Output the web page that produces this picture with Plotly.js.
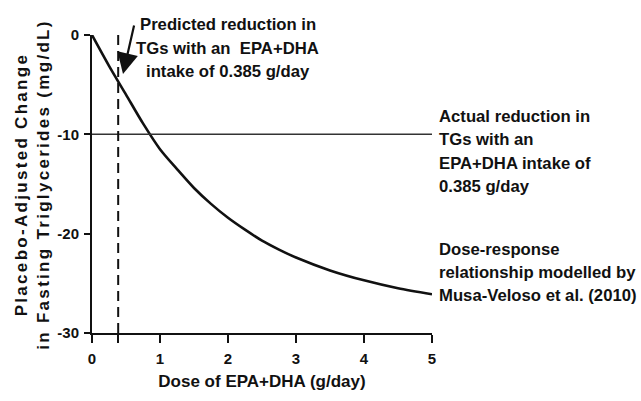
<!DOCTYPE html>
<html>
<head>
<meta charset="utf-8">
<script src="https://cdn.plot.ly/plotly-3.0.1.min.js"></script>
<style>
  html, body { margin: 0; padding: 0; background: #fff; }
  #chart { width: 641px; height: 401px; }
  g.annotation[data-index="0"] text { letter-spacing: 2.3px; }
</style>
</head>
<body>
<div id="chart"></div>
<script>
// ---- data ----
const dose = [0, 0.25, 0.5, 0.75, 1, 1.25, 1.5, 1.75, 2, 2.25, 2.5, 2.75, 3, 3.5, 4, 4.5, 5];
const tgChange = [0, -3.1, -6.0, -8.9, -11.5, -13.5, -15.4, -17.0, -18.4, -19.6, -20.7, -21.6, -22.4, -23.7, -24.7, -25.5, -26.1];
const intakeDose = 0.385;
const actualChange = -10;
const doseRange = [0, 5];
const changeRange = [-30, 0];
const doseTicks = [0, 1, 2, 3, 4, 5];
const changeTicks = [0, -10, -20, -30];
const xTitle = 'Dose of EPA+DHA (g/day)';
const yTitleLines = ['Placebo-Adjusted Change', 'in Fasting Triglycerides (mg/dL)'];
const predictedLines = ['Predicted reduction in', 'TGs with an \u00a0EPA+DHA', 'intake of 0.385 g/day'];
const actualLines = ['Actual reduction in', 'TGs with an', 'EPA+DHA intake of', '0.385 g/day'];
const modelLines = ['Dose-response', 'relationship modelled by', 'Musa-Veloso et al. (2010)'];

// ---- layout helpers ----
const W = 641, H = 401;
const M = { l: 92, r: 209, t: 35, b: 68 };
const PW = W - M.l - M.r, PH = H - M.t - M.b;
const px2x = p => (p - M.l) / PW;
const px2y = p => (H - M.b - p) / PH;
const FONT = 'Liberation Sans, Arial, Helvetica, sans-serif';
const INK = '#111111';
const labelFont = { family: FONT, size: 16.7, color: INK, weight: 700 };

function lineBlock(lines, xPx, yTopPx, step, xanchor) {
  return lines.map((t, i) => ({
    text: t, xref: 'paper', yref: 'paper',
    x: px2x(xPx), y: px2y(yTopPx + i * step),
    xanchor: xanchor, yanchor: 'middle', align: xanchor === 'center' ? 'center' : 'left',
    showarrow: false, borderpad: 0, borderwidth: 0, font: labelFont
  }));
}

const traces = [
  { x: dose, y: tgChange, type: 'scatter', mode: 'lines', cliponaxis: false,
    line: { color: INK, width: 2.6, shape: 'spline', smoothing: 0.8 }, hoverinfo: 'skip' },
  { x: doseRange, y: [actualChange, actualChange], type: 'scatter', mode: 'lines', cliponaxis: false,
    line: { color: '#333333', width: 1.5 }, hoverinfo: 'skip' },
  { x: [intakeDose, intakeDose], y: changeRange, type: 'scatter', mode: 'lines', cliponaxis: false,
    line: { color: INK, width: 2, dash: '10px,6px' }, hoverinfo: 'skip' }
];

const annotations = [
  { text: yTitleLines.join('<br>'), xref: 'paper', yref: 'paper',
    x: px2x(32), y: px2y(185), xanchor: 'center', yanchor: 'middle', textangle: -90,
    showarrow: false, borderpad: 0, borderwidth: 0,
    font: { family: FONT, size: 17, color: INK, weight: 700 } },
  { text: ' ', xref: 'paper', yref: 'paper', x: px2x(123), y: px2y(74),
    showarrow: true, arrowhead: 2, arrowsize: 1.9, arrowwidth: 2.2, arrowcolor: INK,
    ax: 13, ay: -57, standoff: 0, startstandoff: 0 }
].concat(
  lineBlock(predictedLines, 227.5, 25, 23.3, 'center'),
  lineBlock(actualLines, 439, 116.5, 23.4, 'left'),
  lineBlock(modelLines, 439, 249, 23, 'left')
);

const axisCommon = {
  showline: true, linewidth: 2, linecolor: INK, mirror: false,
  ticks: 'outside', tickwidth: 2, tickcolor: INK,
  showgrid: false, zeroline: false, fixedrange: true,
  tickfont: { family: FONT, size: 15, color: INK, weight: 700 }
};

const layout = {
  width: W, height: H, autosize: false,
  margin: M, showlegend: false,
  paper_bgcolor: '#ffffff', plot_bgcolor: '#ffffff',
  font: { family: FONT, color: INK },
  xaxis: Object.assign({}, axisCommon, {
    range: doseRange, tickmode: 'array',
    tickvals: doseTicks.concat([intakeDose]),
    ticktext: doseTicks.map(String).concat(['']),
    ticklen: 8, ticklabelstandoff: 3,
    title: { text: xTitle, standoff: 9, font: { family: FONT, size: 17, color: INK, weight: 700 } }
  }),
  yaxis: Object.assign({}, axisCommon, {
    range: changeRange, tickmode: 'array', tickvals: changeTicks,
    ticktext: changeTicks.map(String),
    ticklen: 6, ticklabelstandoff: 2
  }),
  annotations: annotations
};

Plotly.newPlot('chart', traces, layout, { staticPlot: true, displayModeBar: false });
</script>
</body>
</html>
